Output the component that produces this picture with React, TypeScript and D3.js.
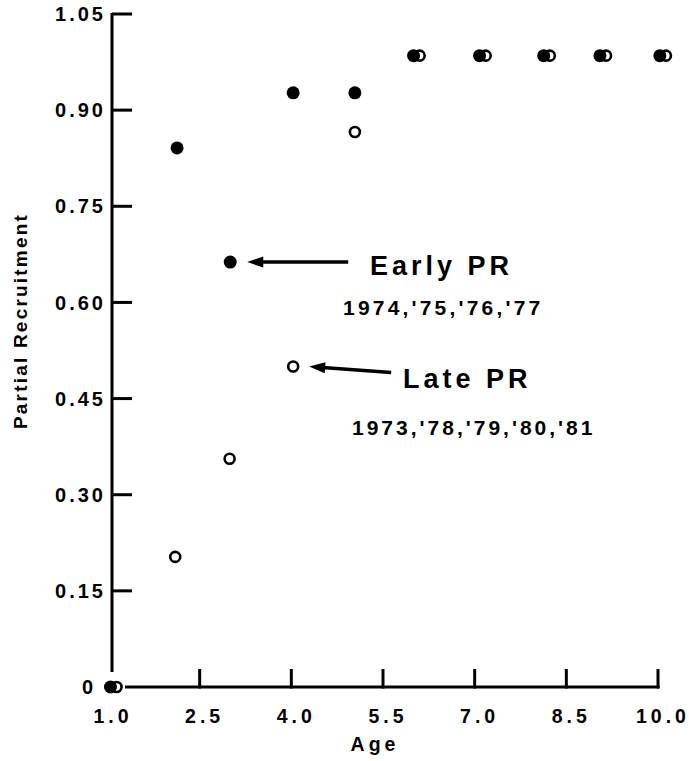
import React from "react";
import * as d3 from "d3";

// Axis tick values
const xTicks = [1.0, 2.5, 4.0, 5.5, 7.0, 8.5, 10.0];
const yTicks = [0, 0.15, 0.3, 0.45, 0.6, 0.75, 0.9, 1.05];

// Early partial recruitment (1974, '75, '76, '77) - filled circles
const earlyAge = [1.04, 2.13, 3.0, 4.03, 5.04, 6.0, 7.08, 8.13, 9.05, 10.03];
const earlyPR = [0, 0.841, 0.663, 0.927, 0.927, 0.985, 0.985, 0.985, 0.985, 0.985];

// Late partial recruitment (1973, '78, '79, '80, '81) - open circles
const lateAge = [1.14, 2.1, 2.99, 4.03, 5.04, 6.1, 7.18, 8.23, 9.15, 10.13];
const latePR = [0, 0.203, 0.356, 0.5, 0.866, 0.985, 0.985, 0.985, 0.985, 0.985];

const W = 689;
const H = 761;
const FONT = "'Liberation Sans', Arial, Helvetica, sans-serif";

export default function App() {
  const x = d3.scaleLinear().domain([1, 10]).range([108, 658]);
  const y = d3.scaleLinear().domain([0, 1.05]).range([687, 14]);

  const yAxisX = x(1) + 4;
  const early = earlyAge.map((a, i) => ({ a, v: earlyPR[i] }));
  const late = lateAge.map((a, i) => ({ a, v: latePR[i] }));

  const fmtY = (v: number) => (v === 0 ? "0" : d3.format(".2f")(v));
  const fmtX = d3.format(".1f");

  // annotation anchors derived from the highlighted points
  const eP = early[2];
  const lP = late[3];
  const eTip = { x: x(eP.a) + 17, y: y(eP.v) };
  const eTail = { x: eTip.x + 101, y: eTip.y };
  const lTip = { x: x(lP.a) + 16, y: y(lP.v) };
  const lTail = { x: lTip.x + 82, y: lTip.y + 6 };

  const arrowHead = (tip: { x: number; y: number }, tail: { x: number; y: number }) => {
    const ang = Math.atan2(tail.y - tip.y, tail.x - tip.x);
    const len = 16;
    const hw = 5.5;
    const bx = tip.x + Math.cos(ang) * len;
    const by = tip.y + Math.sin(ang) * len;
    const px = -Math.sin(ang) * hw;
    const py = Math.cos(ang) * hw;
    return `M${tip.x},${tip.y}L${bx + px},${by + py}L${bx - px},${by - py}Z`;
  };

  const xLs = 4;
  const yLs = 3;

  return (
    <svg
      width={W}
      height={H}
      style={{ position: "absolute", left: 0, top: 0, background: "#fff" }}
      fontFamily={FONT}
      fontWeight="bold"
    >
      <rect width={W} height={H} fill="#fff" />

      {/* Y axis */}
      <line x1={yAxisX} x2={yAxisX} y1={y(1.05) - 1} y2={672} stroke="#000" strokeWidth={3} />
      {yTicks.map((t) => (
        <g key={"yt" + t}>
          {t > 0 && (
            <line x1={yAxisX} x2={yAxisX + 20} y1={y(t)} y2={y(t)} stroke="#000" strokeWidth={3} />
          )}
          <text
            x={(t === 0 ? 93 : 103) + yLs}
            y={y(t)}
            dy="0.36em"
            textAnchor="end"
            fontSize={20}
            letterSpacing={yLs}
            fill="#000"
          >
            {fmtY(t)}
          </text>
        </g>
      ))}

      {/* X axis */}
      <line x1={125} x2={x(10) + 1.5} y1={y(0)} y2={y(0)} stroke="#000" strokeWidth={3} />
      {xTicks.map((t) => (
        <g key={"xt" + t}>
          {t > 1 && (
            <line x1={x(t)} x2={x(t)} y1={y(0) + 1.5} y2={y(0) - 18} stroke="#000" strokeWidth={3} />
          )}
          <text
            x={x(t) + 3 + xLs / 2}
            y={723}
            textAnchor="middle"
            fontSize={19.5}
            letterSpacing={xLs}
            fill="#000"
          >
            {fmtX(t)}
          </text>
        </g>
      ))}

      {/* Axis titles */}
      <text x={375} y={751} textAnchor="middle" fontSize={19.5} letterSpacing={4} fill="#000">
        Age
      </text>
      <text
        transform={`translate(27,${321}) rotate(-90)`}
        textAnchor="middle"
        fontSize={19}
        letterSpacing={2.2}
        fill="#000"
      >
        Partial Recruitment
      </text>

      {/* Late PR: open circles */}
      {late.map((d, i) => (
        <circle key={"l" + i} cx={x(d.a)} cy={y(d.v)} r={5} fill="#fff" stroke="#000" strokeWidth={2.6} />
      ))}
      {/* Early PR: filled circles */}
      {early.map((d, i) => (
        <circle key={"e" + i} cx={x(d.a)} cy={y(d.v)} r={6.5} fill="#000" />
      ))}

      {/* Annotations */}
      <line x1={eTip.x + 10} y1={eTip.y} x2={eTail.x} y2={eTail.y} stroke="#000" strokeWidth={3.5} />
      <path d={arrowHead(eTip, eTail)} fill="#000" />
      <text x={370} y={275} fontSize={27} letterSpacing={4} fill="#000">
        Early PR
      </text>
      <text x={343} y={315} fontSize={21} letterSpacing={3.2} fill="#000">
        1974,'75,'76,'77
      </text>

      <line x1={lTip.x + 10} y1={lTip.y + 0.7} x2={lTail.x} y2={lTail.y} stroke="#000" strokeWidth={3.5} />
      <path d={arrowHead(lTip, lTail)} fill="#000" />
      <text x={403} y={388} fontSize={27} letterSpacing={4} fill="#000">
        Late PR
      </text>
      <text x={352} y={435} fontSize={21} letterSpacing={3} fill="#000">
        1973,'78,'79,'80,'81
      </text>
    </svg>
  );
}
